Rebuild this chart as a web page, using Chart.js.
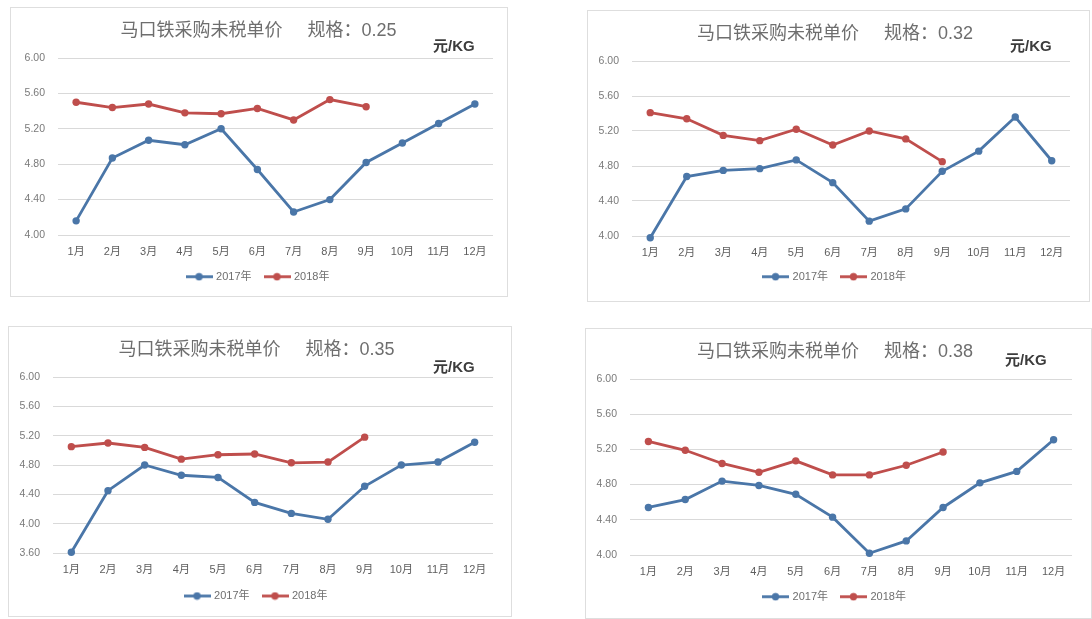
<!DOCTYPE html>
<html><head><meta charset="utf-8">
<script src="https://cdn.jsdelivr.net/npm/chart.js@4.4.0/dist/chart.umd.min.js"></script>
<style>
html,body{margin:0;padding:0;background:#fff;width:1092px;height:619px;overflow:hidden;}
.panel{position:absolute;background:#fff;box-shadow:inset 0 0 0 1px #dedede;}
.panel canvas{position:absolute;left:0;top:0;}
.unit{position:absolute;font:bold 15px 'Liberation Sans','Noto Sans CJK SC',sans-serif;line-height:15px;color:#3c3c3c;white-space:nowrap;}
</style></head><body>
<script>
// ---- data ----
const months = ['1月','2月','3月','4月','5月','6月','7月','8月','9月','10月','11月','12月'];
const seriesNames = ['2017年','2018年'];
const chartTitles = [
  '马口铁采购未税单价     规格：0.25',
  '马口铁采购未税单价     规格：0.32',
  '马口铁采购未税单价     规格：0.35',
  '马口铁采购未税单价     规格：0.38'
];
const unitLabel = '元/KG';
const spec025_2017 = [4.16, 4.87, 5.07, 5.02, 5.20, 4.74, 4.26, 4.40, 4.82, 5.04, 5.26, 5.48];
const spec025_2018 = [5.50, 5.44, 5.48, 5.38, 5.37, 5.43, 5.30, 5.53, 5.45];
const spec032_2017 = [3.98, 4.68, 4.75, 4.77, 4.87, 4.61, 4.17, 4.31, 4.74, 4.97, 5.36, 4.86];
const spec032_2018 = [5.41, 5.34, 5.15, 5.09, 5.22, 5.04, 5.20, 5.11, 4.85];
const spec035_2017 = [3.61, 4.45, 4.80, 4.66, 4.63, 4.29, 4.14, 4.06, 4.51, 4.80, 4.84, 5.11];
const spec035_2018 = [5.05, 5.10, 5.04, 4.88, 4.94, 4.95, 4.83, 4.84, 5.18];
const spec038_2017 = [4.54, 4.63, 4.84, 4.79, 4.69, 4.43, 4.02, 4.16, 4.54, 4.82, 4.95, 5.31];
const spec038_2018 = [5.29, 5.19, 5.04, 4.94, 5.07, 4.91, 4.91, 5.02, 5.17];
const yMins = [4.0, 4.0, 3.6, 4.0];
const yMax = 6.0;
const yStep = 0.4;

// ---- styling / layout ----
const FONT = "'Liberation Sans','Noto Sans CJK SC',sans-serif";
const BLUE = '#4a76a8', RED = '#bf4e4c';
const panels = [
  {left:10,  top:7,   w:498, h:290, padR:1, yW:48, rW:14, chartBottom:228, legendOff:41.7, ux:423, uy:38},
  {left:587, top:10,  w:503, h:292, padR:7, yW:45, rW:13, chartBottom:226, legendOff:40.7, ux:423, uy:35},
  {left:8,   top:326, w:504, h:291, padR:7, yW:45, rW:12, chartBottom:227, legendOff:43,   ux:425, uy:40.7},
  {left:585, top:328, w:507, h:291, padR:7, yW:45, rW:13, chartBottom:227, legendOff:41.7, ux:420, uy:31}
];
const allData = [[spec025_2017, spec025_2018],[spec032_2017, spec032_2018],[spec035_2017, spec035_2018],[spec038_2017, spec038_2018]];

function legendIcon(color){
  const c = document.createElement('canvas');
  c.width = 27; c.height = 9;
  const x = c.getContext('2d');
  x.strokeStyle = color; x.lineWidth = 2.8;
  x.beginPath(); x.moveTo(0, 4.5); x.lineTo(27, 4.5); x.stroke();
  x.fillStyle = color;
  x.beginPath(); x.arc(13.5, 4.5, 3.7, 0, Math.PI*2); x.fill();
  return c;
}
const icons = [legendIcon(BLUE), legendIcon(RED)];

panels.forEach((p, i) => {
  const div = document.createElement('div');
  div.className = 'panel';
  Object.assign(div.style, {left:p.left+'px', top:p.top+'px', width:p.w+'px', height:p.h+'px'});
  const cv = document.createElement('canvas');
  cv.width = p.w; cv.height = p.h;
  cv.style.width = p.w+'px'; cv.style.height = p.h+'px';
  div.appendChild(cv);
  const u = document.createElement('div');
  u.className = 'unit'; u.textContent = unitLabel;
  u.style.left = p.ux + 'px'; u.style.top = (p.uy - 7.5) + 'px';
  div.appendChild(u);
  document.body.appendChild(div);

  const xH = p.legendOff - 19.5;
  const padB = p.h - p.chartBottom - xH - 35;
  const [d17, d18] = allData[i];
  new Chart(cv, {
    type: 'line',
    data: {
      labels: months,
      datasets: [
        {label: seriesNames[0], data: d17, borderColor: BLUE, backgroundColor: BLUE, pointBackgroundColor: BLUE,
         borderWidth: 2.8, pointRadius: 3.7, pointBorderWidth: 0, tension: 0, clip: false, yAxisID: 'y'},
        {label: seriesNames[1], data: d18, borderColor: RED, backgroundColor: RED, pointBackgroundColor: RED,
         borderWidth: 2.8, pointRadius: 3.7, pointBorderWidth: 0, tension: 0, clip: false, yAxisID: 'y'}
      ]
    },
    options: {
      responsive: false, animation: false, devicePixelRatio: 1,
      layout: {padding: {left: 0, right: p.padR, top: 0, bottom: padB}},
      plugins: {
        title: {display: true, text: chartTitles[i], color: '#6e6e6e',
                font: {family: FONT, size: 18, weight: 'normal'}, padding: {top: 13, bottom: 16.4}},
        legend: {position: 'bottom',
          labels: {usePointStyle: true, pointStyleWidth: 23, padding: 14, color: '#6f6f6f',
                   font: {family: FONT, size: 11},
                   generateLabels(chart){
                     const items = Chart.defaults.plugins.legend.labels.generateLabels(chart);
                     items.forEach((it, k) => { it.pointStyle = icons[k]; it.fontColor = '#6f6f6f'; });
                     return items;
                   }}},
        tooltip: {enabled: false}
      },
      scales: {
        x: {offset: true, grid: {display: false, drawTicks: false}, border: {display: false},
            ticks: {padding: 10, color: '#5e5e5e', font: {family: FONT, size: 11}},
            afterFit(s){ s.height = xH; }},
        y: {position: 'left', min: yMins[i], max: yMax,
            grid: {color: '#d9d9d9', lineWidth: 1, drawTicks: false}, border: {display: false},
            ticks: {stepSize: yStep, padding: 13, color: '#7a7a7a', font: {family: FONT, size: 10.5},
                    callback: v => Number(v).toFixed(2)},
            afterFit(s){ s.width = p.yW; }},
        yPad: {type: 'linear', position: 'right', display: true,
            grid: {display: false, drawTicks: false}, border: {display: false},
            ticks: {display: false},
            afterFit(s){ s.width = p.rW; }}
      }
    }
  });
});
</script>
</body></html>
